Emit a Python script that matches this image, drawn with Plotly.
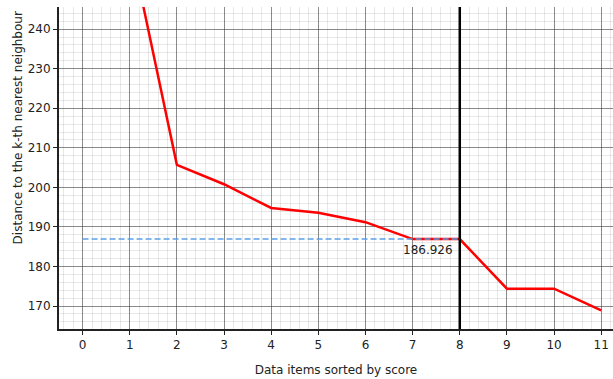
import plotly.graph_objects as go

# Data items (sorted by score) and their distance to the k-th nearest neighbour
item_index = [0, 1, 2, 3, 4, 5, 6, 7, 8, 9, 10, 11]
knn_distance = [285.0, 262.0, 205.7, 200.8, 194.8, 193.6, 191.2, 186.926, 186.926, 174.4, 174.4, 168.9]

x_ticks = list(range(0, 12))
y_ticks = [170, 180, 190, 200, 210, 220, 230, 240]

cut_index = 8
cut_value = knn_distance[item_index.index(cut_index)]

font_family = "DejaVu Sans, Verdana, sans-serif"
text_color = "#222222"

fig = go.Figure()

# Distance curve
fig.add_trace(go.Scatter(
    x=item_index, y=knn_distance, mode="lines",
    line=dict(color="#ff0000", width=2.5),
    showlegend=False,
))

# Reference level at the chosen cut (semi-transparent, on top of the curve)
fig.add_trace(go.Scatter(
    x=[item_index[0], cut_index], y=[cut_value, cut_value],
    mode="lines", line=dict(color="rgba(90,160,230,0.75)", width=2, dash="6px,3px"),
    hoverinfo="skip", showlegend=False,
))

# Vertical cut marker
fig.add_shape(type="line", x0=cut_index, x1=cut_index, xref="x",
              y0=0, y1=1, yref="paper", line=dict(color="black", width=2.5))

fig.add_annotation(
    x=cut_index - 0.1, y=cut_value, xref="x", yref="y",
    text=f"{cut_value:.3f}", showarrow=False,
    xanchor="right", yanchor="top", yshift=-2,
    font=dict(family=font_family, size=12, color=text_color),
)

# Y axis title
fig.add_annotation(
    x=-0.074, y=0.623, xref="paper", yref="paper",
    text="Distance to the k-th nearest neighbour", textangle=-90,
    showarrow=False, xanchor="center", yanchor="middle",
    font=dict(family=font_family, size=12, color=text_color),
)

axis_common = dict(
    showline=True, linecolor=text_color, linewidth=2,
    ticks="outside", ticklen=4, tickcolor=text_color,
    gridcolor="rgba(60,60,60,0.55)", gridwidth=1,
    zeroline=False,
    tickfont=dict(family=font_family, size=12, color=text_color),
    title_font=dict(family=font_family, size=12, color=text_color),
)

fig.update_xaxes(
    range=[-0.5, 11.25], tickvals=x_ticks,
    title_text="Data items sorted by score", title_standoff=14,
    minor=dict(dtick=0.2, showgrid=True, gridcolor="rgba(0,0,0,0.09)", gridwidth=1),
    **axis_common,
)
fig.update_yaxes(
    range=[164.2, 245.6], tickvals=y_ticks,
    minor=dict(dtick=2, showgrid=True, gridcolor="rgba(0,0,0,0.09)", gridwidth=1),
    **axis_common,
)

fig.update_layout(
    width=613, height=379,
    margin=dict(l=59, r=0, t=7, b=50),
    plot_bgcolor="white", paper_bgcolor="white",
    font=dict(family=font_family, size=12, color=text_color),
)

fig.write_html("out.html")
